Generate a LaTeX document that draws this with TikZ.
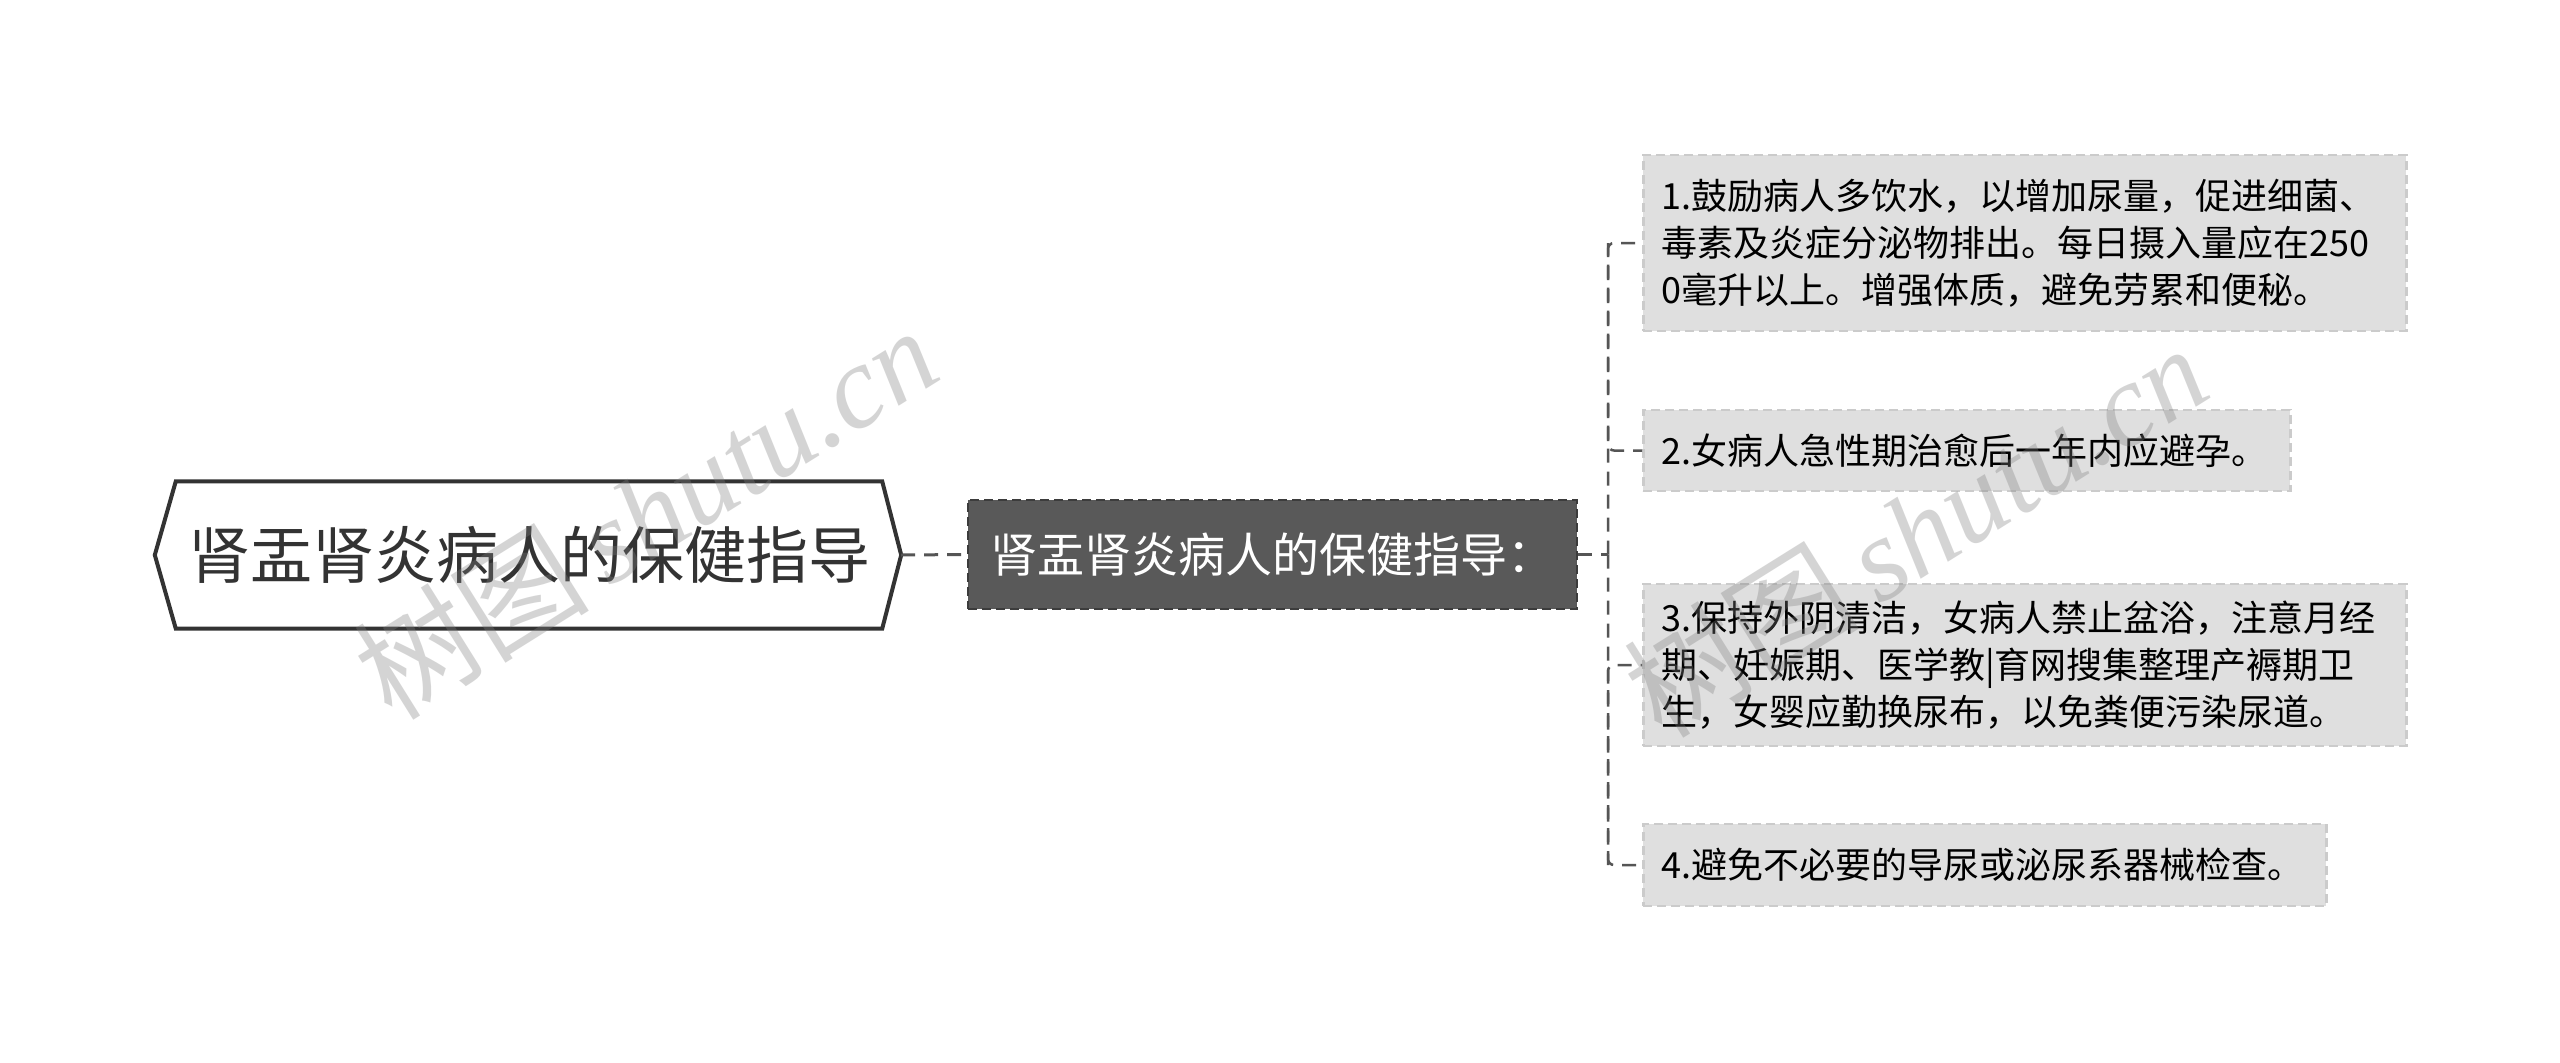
\documentclass[tikz,border=0pt]{standalone}
\usepackage{fontspec}
\setmainfont{Noto Sans CJK SC}
\newfontfamily\wmfont{Liberation Serif}
\definecolor{rootline}{HTML}{333333}
\definecolor{midfill}{HTML}{595959}
\definecolor{midline}{HTML}{3C3C3C}
\definecolor{leaffill}{HTML}{DFDFDF}
\definecolor{leafline}{HTML}{CBCBCB}
\definecolor{connc}{HTML}{555555}
\definecolor{wmc}{HTML}{7F7F7F}
\tikzset{
  rootbox/.style={inner sep=0pt, minimum width=706pt, minimum height=147pt,
    font=\fontsize{62}{70}\selectfont, text=rootline},
  midbox/.style={fill=midfill, draw=midline, dash pattern=on 9pt off 5pt,
    line width=2.5pt, minimum width=609pt, minimum height=109pt, inner sep=0pt,
    text=white, font=\fontsize{47}{52}\selectfont},
  leafbox/.style={anchor=west, fill=leaffill, draw=leafline, dash pattern=on 9pt off 5pt,
    line width=2.5pt, inner xsep=18pt, inner ysep=0pt, align=left,
    font=\fontsize{36}{47}\selectfont, text=black},
  conn/.style={draw=connc, line width=2.5pt, dash pattern=on 14pt off 9pt},
  wm/.style={text=wmc, text opacity=0.33, rotate=32, font=\fontsize{118}{125}\selectfont}
}
\begin{document}
\begin{tikzpicture}[x=1pt,y=-1pt]
\useasboundingbox (0,0) rectangle (2560,1063);
\fill[white] (0,0) rectangle (2560,1063);

% root
\node[rootbox] (root) at (529,555) {肾盂肾炎病人的保健指导};
\coordinate (rtip) at ([xshift=19pt]root.east);
\coordinate (ltip) at ([xshift=-21pt]root.west);
\draw[rootline, line width=4pt, line join=miter]
  (root.north west) -- (root.north east) -- (rtip) -- (root.south east)
  -- (root.south west) -- (ltip) -- cycle;

% middle
\node[midbox] (mid) at (1272.5,554.5) {肾盂肾炎病人的保健指导：};

% leaves
\node[leafbox, minimum width=763pt, minimum height=176pt, text width=727pt] (l1) at (1642,243)
  {1.鼓励病人多饮水，以增加尿量，促进细菌、\\毒素及炎症分泌物排出。每日摄入量应在250\\0毫升以上。增强体质，避免劳累和便秘。};
\node[leafbox, minimum width=647pt, minimum height=81pt, text width=611pt] (l2) at (1642,450.5)
  {2.女病人急性期治愈后一年内应避孕。};
\node[leafbox, minimum width=763pt, minimum height=162pt, text width=727pt] (l3) at (1642,665)
  {3.保持外阴清洁，女病人禁止盆浴，注意月经\\期、妊娠期、医学教|育网搜集整理产褥期卫\\生，女婴应勤换尿布，以免粪便污染尿道。};
\node[leafbox, minimum width=683pt, minimum height=82pt, text width=647pt] (l4) at (1642,865)
  {4.避免不必要的导尿或泌尿系器械检查。};

% connectors
\draw[conn, line width=3pt] (rtip) -- (mid.west);
\coordinate (bus) at (1608,554.5);
\coordinate (bustop) at (bus |- l1.west);
\coordinate (busbot) at (bus |- l4.west);
\draw[conn] (mid.east) -- (bus);
\draw[conn, rounded corners=6pt] (bus) |- (l1.west);
\draw[conn, rounded corners=6pt] (bustop) |- (l2.west);
\draw[conn, rounded corners=6pt] (busbot) |- (l3.west);
\draw[conn, rounded corners=6pt] (bus) |- (l4.west);

% watermarks (drawn over everything, translucent)
\node[wm] (wm1) at (645,512) {树图\,{\wmfont\itshape shutu.cn}};
\node[wm] (wm2) at (1915,530) {树图\,{\wmfont\itshape shutu.cn}};
\end{tikzpicture}
\end{document}
